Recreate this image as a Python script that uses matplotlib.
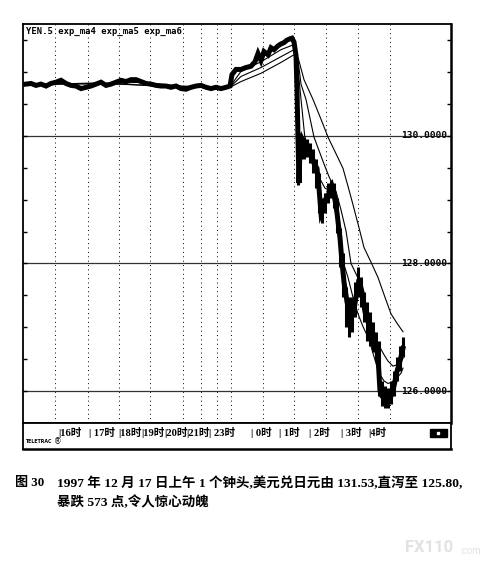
import matplotlib
matplotlib.use("Agg")
import matplotlib.pyplot as plt
from matplotlib.patches import Rectangle

# ---------------- data (tick index, price) ----------------
price_t = [3, 8, 13, 18, 23, 28, 33, 38, 43, 48, 53, 58, 63, 68, 73, 78, 83, 88, 93, 98,
           103, 108, 113, 118, 123, 128, 133, 138, 143, 148, 153, 158, 163, 168, 173, 178,
           183, 188, 193, 198, 203, 207, 209, 213, 218, 223, 228, 232, 235, 238, 241, 245,
           248, 251, 255, 258, 261, 264, 267, 269, 271, 273, 274, 275, 276, 277, 279, 281,
           283, 285, 288, 291, 294, 296, 298, 300, 303, 306, 309, 311, 314, 317, 319, 321,
           324, 327, 330, 333, 336, 339, 342, 345, 348, 352, 355, 357, 359, 362, 365, 368,
           371, 374, 377, 380]
price_v = [130.81, 130.82, 130.79, 130.81, 130.78, 130.82, 130.84, 130.87, 130.82, 130.79,
           130.78, 130.74, 130.76, 130.78, 130.81, 130.84, 130.79, 130.81, 130.84, 130.87,
           130.85, 130.88, 130.88, 130.85, 130.82, 130.81, 130.79, 130.78, 130.78, 130.76,
           130.78, 130.74, 130.73, 130.76, 130.78, 130.79, 130.76, 130.74, 130.76, 130.74,
           130.76, 130.78, 130.96, 131.04, 131.04, 131.07, 131.09, 131.16, 131.29, 131.18,
           131.32, 131.27, 131.38, 131.35, 131.41, 131.44, 131.46, 131.50, 131.52, 131.53,
           131.47, 131.26, 130.73, 129.95, 129.26, 129.80, 129.95, 129.88, 129.80, 129.83,
           129.72, 129.57, 129.49, 129.18, 128.79, 128.87, 129.02, 129.10, 129.21, 129.10,
           128.79, 128.40, 128.02, 127.71, 127.40, 127.16, 127.19, 127.47, 127.75, 127.55,
           127.24, 127.09, 126.93, 126.78, 126.54, 126.00, 125.92, 125.89, 125.85, 125.92,
           126.08, 126.31, 126.47, 126.67]

bar_t = [275, 278, 281, 284, 287, 290, 293, 296, 299, 302, 305, 308, 311, 314, 317, 320,
         323, 326, 329, 332, 335, 338, 341, 344, 347, 350, 353, 356, 359, 362, 365, 368,
         371, 374, 377, 380]
bar_hi = [130.26, 130.03, 129.98, 129.95, 129.88, 129.80, 129.64, 129.41, 129.02, 129.10,
          129.26, 129.30, 129.26, 129.02, 128.56, 128.17, 127.63, 127.47, 127.47, 127.71,
          127.94, 127.78, 127.55, 127.40, 127.24, 127.09, 126.93, 126.78, 126.16, 126.08,
          126.05, 126.16, 126.31, 126.54, 126.70, 126.85]
bar_lo = [129.23, 129.64, 129.64, 129.67, 129.57, 129.41, 129.18, 128.79, 128.64, 128.79,
          128.95, 129.02, 128.87, 128.48, 127.94, 127.47, 127.01, 126.85, 126.93, 127.16,
          127.47, 127.32, 127.09, 126.78, 126.70, 126.62, 126.47, 125.92, 125.77, 125.74,
          125.74, 125.80, 125.92, 126.16, 126.31, 126.54]

ma4_t = [3, 78, 158, 207, 218, 238, 258, 271, 274, 277, 279, 282, 288, 295, 302, 308, 313,
         316, 321, 325, 330, 335, 340, 346, 351, 356, 361, 365, 369, 373, 378, 380]
ma4_v = [130.80, 130.83, 130.76, 130.77, 131.01, 131.16, 131.35, 131.43, 131.19, 130.73,
         130.42, 129.95, 129.67, 129.38, 129.18, 129.13, 128.87, 128.51, 127.98, 127.78,
         127.47, 127.21, 127.01, 126.81, 126.54, 126.28, 126.16, 126.12, 126.14, 126.19,
         126.28, 126.36]

ma5_t = [3, 78, 158, 207, 218, 238, 258, 271, 275, 278, 283, 291, 300, 306, 313, 318, 323,
         328, 336, 343, 350, 355, 361, 365, 370, 375, 380]
ma5_v = [130.80, 130.82, 130.77, 130.76, 130.93, 131.07, 131.24, 131.35, 131.19, 130.81,
         130.57, 129.98, 129.60, 129.36, 129.13, 128.84, 128.51, 128.00, 127.74, 127.36,
         127.01, 126.74, 126.57, 126.47, 126.39, 126.42, 126.51]

ma6_t = [3, 38, 78, 118, 158, 207, 218, 238, 258, 271, 275, 281, 290, 298, 305, 313, 320,
         325, 330, 336, 341, 348, 355, 362, 368, 375, 380]
ma6_v = [130.79, 130.82, 130.81, 130.84, 130.78, 130.76, 130.85, 130.98, 131.15, 131.27,
         131.23, 130.88, 130.57, 130.26, 129.98, 129.72, 129.49, 129.21, 128.92, 128.56,
         128.25, 128.02, 127.78, 127.47, 127.21, 127.04, 126.93]

hour_grid = [32, 65, 96, 127, 160, 178, 194, 208, 240, 271, 303, 335, 367]
hour_label_pos = [35, 66, 95, 118, 141, 163, 186, 228, 256, 286, 318, 345]
hour_labels = ["|16时", "| 17时", "|18时", "|19时", "|20时", "|21时", "| 23时",
               "| 0时", "| 1时", "| 2时", "| 3时", "|4时"]
level_lines = [130.0, 128.0, 126.0]
level_labels = ["130.0000", "128.0000", "126.0000"]
minor_levels = [125.5, 126.0, 126.5, 127.0, 127.5, 128.0, 128.5, 129.0, 129.5, 130.0,
                130.5, 131.0, 131.5]
legend_text = "YEN.5 exp_ma4 exp_ma5 exp_ma6"
caption1_head = "图 30"
caption1 = "1997 年 12 月 17 日上午 1 个钟头,美元兑日元由 131.53,直泻至 125.80,"
caption2 = "暴跌 573 点,令人惊心动魄"

# ---------------- figure ----------------
W, H = 492, 564
fig = plt.figure(figsize=(W / 100, H / 100), dpi=100)
fig.patch.set_facecolor("white")

def fx(px):
    return px / W

def fy(py):
    return 1 - py / H

ax = fig.add_axes([fx(23), fy(423), fx(451) - fx(23), fy(24) - fy(423)])
ax.set_xlim(0, 428)
ax.set_ylim(125.566, 131.752)

for g in hour_grid:
    ax.axvline(g, color="black", lw=0.7, ls=(0, (1, 3.5)), zorder=1)
for lv in level_lines:
    ax.axhline(lv, color="#333333", lw=0.9, zorder=1)

ax.plot(ma6_t, ma6_v, color="black", lw=0.8, zorder=3)
ax.plot(ma5_t, ma5_v, color="black", lw=0.8, zorder=3)
ax.plot(ma4_t, ma4_v, color="black", lw=0.8, zorder=3)
ax.vlines(bar_t, bar_lo, bar_hi, color="black", lw=2.2, zorder=4)
ax.plot(price_t, price_v, color="black", lw=3.6, solid_joinstyle="miter", zorder=4)

mono = "DejaVu Sans Mono"
for lv, lab in zip(level_lines, level_labels):
    ax.text(424, lv, lab, ha="right", va="center", fontsize=6.8, fontweight="bold",
            family=mono, color="black", zorder=5)

ax.text(3, 131.70, legend_text, ha="left", va="top", fontsize=6.4, fontweight="bold",
        family=mono, color="black")

ax.set_yticks(minor_levels)
ax.set_xticks([])
ax.tick_params(axis="y", direction="in", length=3, width=1, left=True, right=True,
               labelleft=False, labelright=False)
for side, sp in ax.spines.items():
    sp.set_color("black")
    sp.set_linewidth(1.3)
ax.spines["right"].set_linewidth(1.8)
ax.spines["bottom"].set_linestyle((0, (1, 1)))

# ---------------- time bar ----------------
tb = fig.add_axes([fx(23), fy(449), fx(451) - fx(23), fy(423) - fy(449)])
tb.set_xlim(0, 428)
tb.set_ylim(0, 1)
tb.set_xticks([])
tb.set_yticks([])
for sp in tb.spines.values():
    sp.set_color("black")
    sp.set_linewidth(1.3)
tb.spines["bottom"].set_linewidth(1.8)
tl_family = ["Liberation Serif", "Noto Sans CJK SC"]
for pos, lab in zip(hour_label_pos, hour_labels):
    tb.text(pos, 0.62, lab, ha="left", va="center", fontsize=7.6, family=tl_family,
            fontweight="bold", color="black")
tb.text(2, 0.27, "TELETRAC", ha="left", va="center", fontsize=3.4, fontweight="bold",
        family="DejaVu Sans", color="black")
tb.text(31, 0.27, "®", ha="left", va="center", fontsize=5.5, color="black")
tb.add_patch(Rectangle((407, 0.45), 17, 0.33, color="black"))
tb.add_patch(Rectangle((414.5, 0.58), 2, 0.07, color="white"))

# ---------------- caption ----------------
cap_family = ["Liberation Serif", "Noto Sans CJK SC"]
fig.text(fx(15), fy(483), caption1_head, ha="left", va="center", fontsize=9.4,
         family=cap_family, fontweight="bold")
fig.text(fx(57), fy(483), caption1, ha="left", va="center", fontsize=9.7,
         family=cap_family, fontweight="bold")
fig.text(fx(57), fy(502), caption2, ha="left", va="center", fontsize=9.7,
         family=cap_family, fontweight="bold")

fig.text(fx(405), fy(548), "FX110", ha="left", va="center", fontsize=12,
         fontweight="bold", color="#e2e2e2", family="Roboto")
fig.text(fx(459), fy(551), ".com", ha="left", va="center", fontsize=7,
         color="#e2e2e2", family="Roboto")

fig.savefig("out.png", dpi=100)
